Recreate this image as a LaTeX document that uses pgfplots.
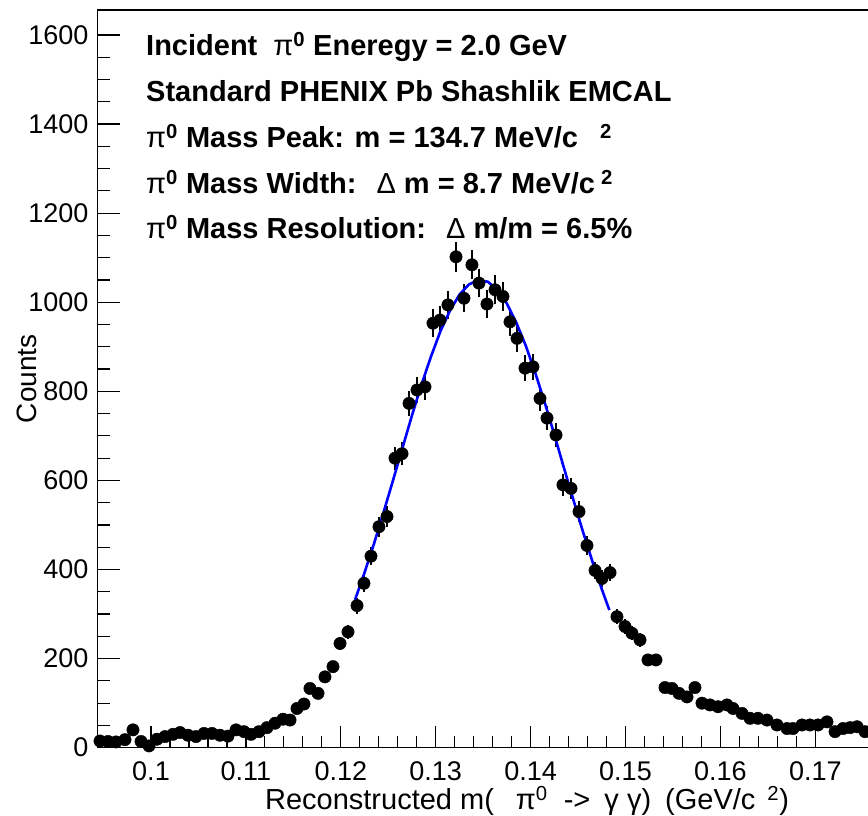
\documentclass[border=0pt]{standalone}
\usepackage{fontspec}
\setmainfont{Liberation Sans}
\usepackage{pgfplots}
\pgfplotsset{compat=1.18}
\usepackage{pgfplotstable}
\pgfplotstableread{
x y e
0.09463 15 3.9
0.09547 14 3.7
0.09631 13 3.6
0.09726 18 4.2
0.09810 40 6.3
0.09895 14 3.7
0.09979 4 2.0
0.10063 19 4.4
0.10148 25 5.0
0.10232 30 5.5
0.10306 34 5.8
0.10390 28 5.3
0.10474 25 5.0
0.10558 32 5.7
0.10643 32 5.7
0.10727 28 5.3
0.10811 26 5.1
0.10896 40 6.3
0.10980 36 6.0
0.11054 30 5.5
0.11138 36 6.0
0.11222 45 6.7
0.11307 55 7.4
0.11391 64 8.0
0.11465 62 7.9
0.11538 88 9.4
0.11612 98 9.9
0.11675 133 11.5
0.11760 122 11.0
0.11833 159 12.6
0.11918 182 13.5
0.11992 234 15.3
0.12076 260 16.1
0.12171 319 17.9
0.12244 369 19.2
0.12318 430 20.7
0.12402 496 22.3
0.12487 519 22.8
0.12571 650 25.5
0.12645 660 25.7
0.12719 773 27.8
0.12803 803 28.3
0.12887 810 28.5
0.12971 953 30.9
0.13045 960 31.0
0.13129 994 31.5
0.13214 1102 33.2
0.13298 1009 31.8
0.13382 1084 32.9
0.13456 1043 32.3
0.13540 996 31.6
0.13625 1028 32.1
0.13709 1013 31.8
0.13783 956 30.9
0.13857 919 30.3
0.13941 852 29.2
0.14025 855 29.2
0.14099 784 28.0
0.14173 740 27.2
0.14268 702 26.5
0.14341 590 24.3
0.14426 582 24.1
0.14510 530 23.0
0.14594 454 21.3
0.14679 398 19.9
0.14752 380 19.5
0.14837 393 19.8
0.14910 294 17.1
0.14995 272 16.5
0.15068 257 16.0
0.15153 242 15.6
0.15237 197 14.0
0.15321 197 14.0
0.15416 135 11.6
0.15490 133 11.5
0.15564 122 11.0
0.15648 114 10.7
0.15732 135 11.6
0.15806 100 10.0
0.15890 96 9.8
0.15975 92 9.6
0.16069 96 9.8
0.16133 88 9.4
0.16228 77 8.8
0.16312 66 8.1
0.16396 66 8.1
0.16491 62 7.9
0.16596 51 7.1
0.16702 43 6.6
0.16765 43 6.6
0.16860 51 7.1
0.16944 51 7.1
0.17028 51 7.1
0.17123 58 7.6
0.17208 36 6.0
0.17292 43 6.6
0.17366 45 6.7
0.17440 47 6.9
0.17524 36 6.0
}\datatab
\pgfplotstableread{
x y
0.1215 332
0.1225 393
0.1235 458
0.1245 528
0.1255 600
0.1265 673
0.1275 746
0.1285 815
0.1295 878
0.1305 935
0.1315 981
0.1325 1017
0.1335 1040
0.1345 1050
0.1355 1046
0.1365 1028
0.1375 997
0.1385 954
0.1395 902
0.1405 841
0.1415 774
0.1425 703
0.1435 629
0.1445 557
0.1455 486
0.1465 419
0.1475 356
0.1483 309
}\fittab
\begin{document}
\begin{tikzpicture}[x=1pt,y=1pt]
\begin{axis}[
  at={(0pt,0pt)}, anchor=south west,
  scale only axis, width=812.5pt, height=737.7pt,
  xmin=0.094383, xmax=0.18, ymin=0, ymax=1656.1,
  clip=false,
  axis line style={line width=1.2pt},
  every tick/.style={line width=1.2pt, black},
  tick align=inside, tick pos=left,
  major tick length=22pt, minor tick length=12pt,
  xtick={0.1,0.11,0.12,0.13,0.14,0.15,0.16,0.17},
  xticklabels={0.1,0.11,0.12,0.13,0.14,0.15,0.16,0.17},
  ytick={0,200,400,600,800,1000,1200,1400,1600},
  yticklabels={0,200,400,600,800,1000,1200,1400,1600},
  minor x tick num=4, minor y tick num=3,
  tick label style={font=\fontsize{27}{32}\selectfont},
  xticklabel style={inner sep=0pt, anchor=north, yshift=-14pt},
  yticklabel style={inner sep=0pt, anchor=east, xshift=-9pt},
  xlabel={Reconstructed m(\hspace{22pt}π\textsuperscript{0}\hspace{8pt} -> \hspace{6pt}γ γ)\hspace{6pt} (GeV/c\hspace{12pt}\textsuperscript{2})},
  xlabel style={font=\fontsize{29}{34}\selectfont, at={(axis description cs:0.5284,0)}, anchor=base, yshift=-62pt, inner sep=0pt},
  ylabel={Counts},
  ylabel style={font=\fontsize{28}{33}\selectfont, at={(axis description cs:-0.087,0.5)}, anchor=center, inner sep=0pt},
]
\addplot[only marks, mark=*, mark size=6.2pt, black,
  error bars/.cd, y dir=both, y explicit, error mark=none,
  error bar style={line width=1.4pt, black}]
  table[x=x, y=y, y error=e] {\datatab};
\addplot[no marks, blue, line width=2.6pt] table[x=x, y=y] {\fittab};
\end{axis}
\begin{scope}[every node/.style={anchor=base west, inner sep=0pt, font=\fontsize{29}{34}\selectfont\bfseries}]
\node at (48.3pt, 691.7pt) {Incident\hspace{16pt}{\mdseries π}\textsuperscript{0} Eneregy = 2.0 GeV};
\node at (48.3pt, 645.9pt) {Standard PHENIX Pb Shashlik EMCAL};
\node at (48.3pt, 600.2pt) {{\mdseries π}\textsuperscript{0} Mass Peak: m = 134.7 MeV/c\hspace{22pt}\textsuperscript{2}};
\node at (48.3pt, 554.4pt) {{\mdseries π}\textsuperscript{0} Mass Width:\hspace{20pt}{\mdseries Δ} m = 8.7 MeV/c\hspace{6pt}\textsuperscript{2}};
\node at (48.3pt, 508.7pt) {{\mdseries π}\textsuperscript{0} Mass Resolution:\hspace{20pt}{\mdseries Δ} m/m = 6.5\%};
\end{scope}
\pgfresetboundingbox
\path[use as bounding box] (-97.7pt,-68.3pt) rectangle (770.3pt,747.7pt);
\end{tikzpicture}
\end{document}
